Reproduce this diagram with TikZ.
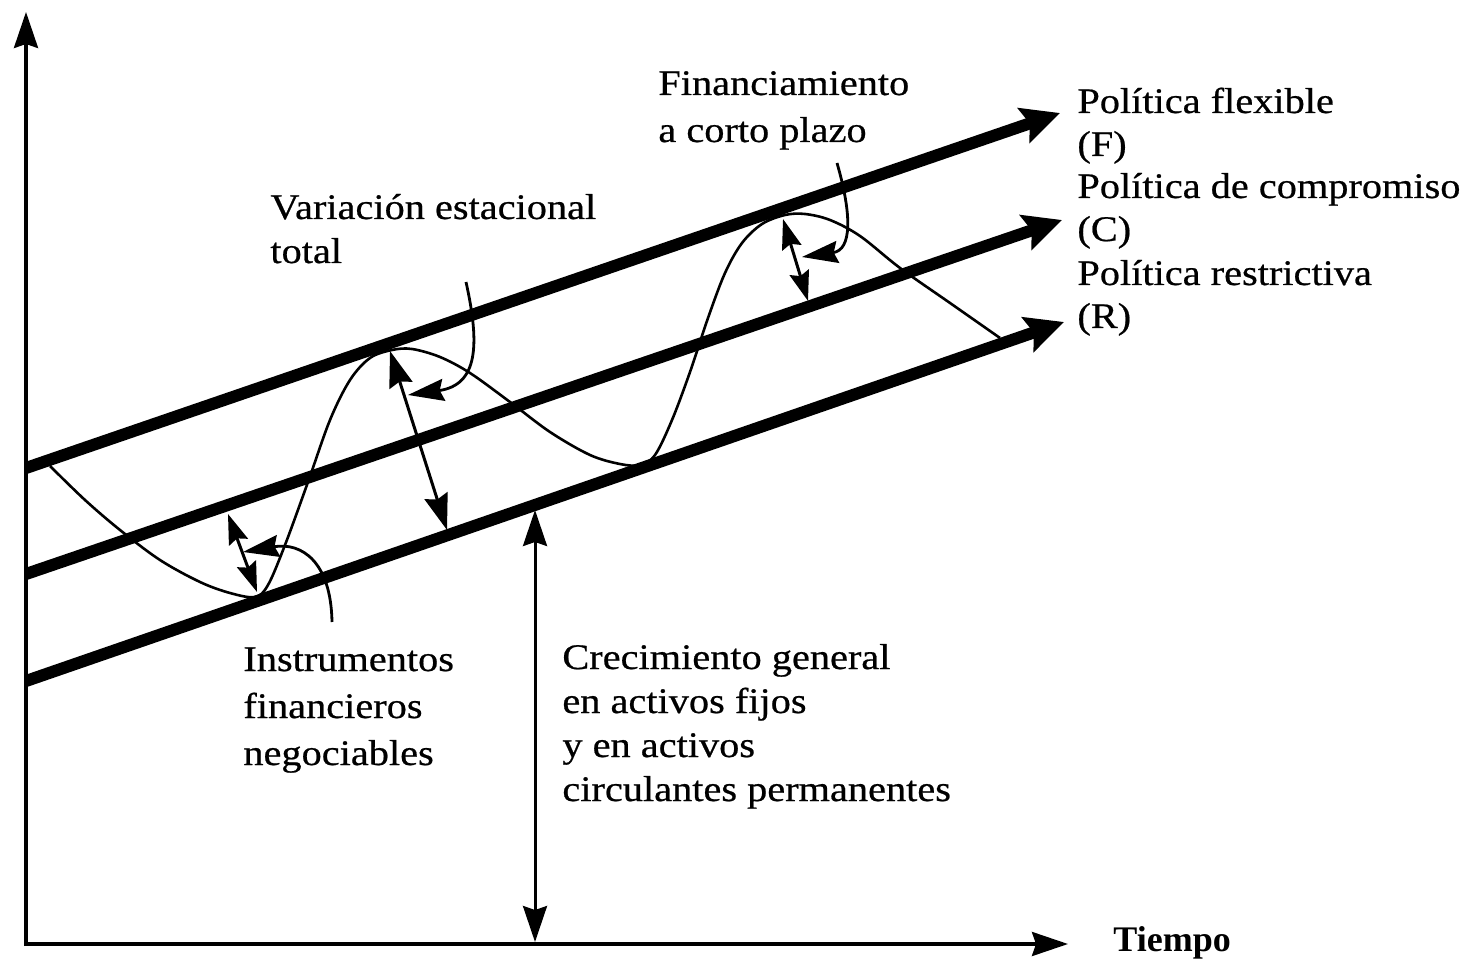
\documentclass[tikz,border=0pt]{standalone}
\usepackage{fontspec}
\setmainfont{Liberation Serif}[FakeStretch=1.12,FakeBold=0.6]
\newfontfamily\tiempofont{Liberation Serif}
\usetikzlibrary{arrows.meta}
\newcommand\lbllines[1]{\begin{tabular}[t]{@{}l@{}}#1\end{tabular}}
\tikzset{
  policy/.style={line width=6pt,-{Stealth[length=19pt,width=18pt,inset=3pt]}},
  axisline/.style={line width=1.7pt},
  axistip/.style={-{Stealth[length=18pt,width=12pt,inset=2pt]}},
  wave/.style={line width=1.3pt},
  dblbig/.style={line width=1.5pt,{Stealth[length=18pt,width=12pt,inset=2pt]}-{Stealth[length=18pt,width=12pt,inset=2pt]}},
  dblsmall/.style={line width=1.5pt,{Stealth[length=15pt,width=10pt,inset=2pt]}-{Stealth[length=15pt,width=10pt,inset=2pt]}},
  pointer/.style={line width=1.4pt,-{Stealth[length=18pt,width=11pt,inset=2pt]}},
  lbl/.style={inner sep=0pt,anchor=base west,font=\fontsize{18pt}{22pt}\selectfont},
}
\begin{document}
\begin{tikzpicture}[x=0.5pt,y=-0.5pt]
\useasboundingbox (0,0) rectangle (1475,961);
% axes
\coordinate (O) at (26,944);
\coordinate (Ytop) at (26,12);
\coordinate (Xend) at (1068,944);
\draw[axisline,axistip] (26,946) -- (Ytop);
\draw[axisline,axistip] (O) -- (Xend);
% policy lines
\coordinate (F0) at (26,468); \coordinate (F1) at (1060,113);
\coordinate (C0) at (26,574); \coordinate (C1) at (1062,220);
\coordinate (R0) at (26,681); \coordinate (R1) at (1064,322);
% wave
\draw[wave] plot[smooth,tension=0.55] coordinates {
 (50,466) (85,500) (120,530) (160,560) (200,582) (230,593) (255,597)
 (268,585) (285,545) (308,482) (330,420) (350,380) (370,358) (392,350)
 (412,349) (440,357) (470,373) (510,402) (550,432) (590,455) (620,464) (640,465)
 (655,455) (672,420) (690,372) (708,318) (725,273) (742,243) (762,224) (785,215)
 (805,214) (830,220) (860,236) (900,268) (950,303) (1000,338)};
\draw[policy] (F0) -- (F1);
\draw[policy] (C0) -- (C1);
\draw[policy] (R0) -- (R1);
% double arrows
\coordinate (a1t) at (228,514); \coordinate (a1b) at (257,592);
\coordinate (a2t) at (390,351); \coordinate (a2b) at (447,530);
\coordinate (a3t) at (783,219); \coordinate (a3b) at (808,301);
\coordinate (a4t) at (535,510); \coordinate (a4b) at (535,942);
\draw[dblsmall] (a1t) -- (a1b);
\draw[dblbig] (a2t) -- (a2b);
\draw[dblsmall] (a3t) -- (a3b);
\draw[dblbig] (a4t) -- (a4b);
% pointers
\coordinate (p1s) at (332,622); \coordinate (p1e) at (243,552);
\coordinate (p2s) at (466,282); \coordinate (p2e) at (408,395);
\coordinate (p3s) at (837,163); \coordinate (p3e) at (802,257);
\draw[pointer] (p1s) .. controls (331,562) and (302,542) .. (p1e);
\draw[pointer] (p2s) .. controls (480,345) and (478,385) .. (p2e);
\draw[pointer] (p3s) .. controls (852,215) and (852,250) .. (p3e);
% labels
\node[lbl,font=\fontsize{18pt}{23.5pt}\selectfont] (fin) at (658,95) {\lbllines{Financiamiento\\a corto plazo}};
\node[lbl] (var) at (270,219) {\lbllines{Variación estacional\\total}};
\node[lbl,font=\fontsize{18pt}{21.5pt}\selectfont] (labF) at (1077,113) {\lbllines{Política flexible\\(F)}};
\node[lbl,font=\fontsize{18pt}{21.5pt}\selectfont] (labC) at (1077,198) {\lbllines{Política de compromiso\\(C)}};
\node[lbl,font=\fontsize{18pt}{21.5pt}\selectfont] (labR) at (1077,285) {\lbllines{Política restrictiva\\(R)}};
\node[lbl,font=\fontsize{18pt}{23.5pt}\selectfont] (ins) at (243,671) {\lbllines{Instrumentos\\financieros\\negociables}};
\node[lbl] (cre) at (562,669) {\lbllines{Crecimiento general\\en activos fijos\\y en activos\\circulantes permanentes}};
\node[lbl,font=\tiempofont\bfseries\fontsize{18pt}{22pt}\selectfont] (tiempo) at (1113,951) {Tiempo};
\end{tikzpicture}
\end{document}
